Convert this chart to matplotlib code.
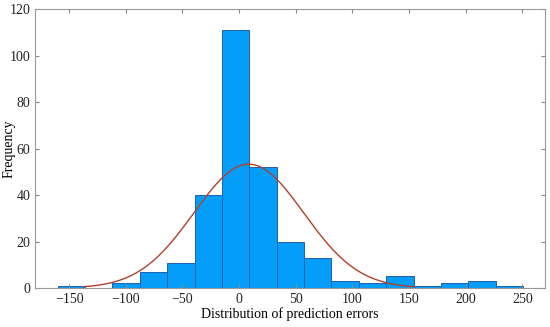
import numpy as np
import matplotlib
matplotlib.use('Agg')
import matplotlib.pyplot as plt

# histogram of prediction errors (17 equal bins)
bin_start = -160.2
bin_width = 24.17
counts = [1, 0, 2, 7, 11, 40, 111, 52, 20, 13, 3, 2, 5, 1, 2, 3, 1]

# fitted normal curve
fit_mean = 8.5
fit_sigma = 48.5
fit_peak = 53.3

xticks = [-150, -100, -50, 0, 50, 100, 150, 200, 250]
yticks = [0, 20, 40, 60, 80, 100, 120]

plt.rcParams['font.family'] = ['Liberation Serif', 'DejaVu Serif']
plt.rcParams['font.size'] = 9

fig = plt.figure(figsize=(5.5, 3.27), dpi=100)
ax = fig.add_axes([0.064, 0.119, 0.927, 0.853])

edges = bin_start + bin_width * np.arange(len(counts) + 1)
ax.bar(edges[:-1], counts, width=bin_width, align='edge',
       color='#049ef8', edgecolor='#1f5fb0', linewidth=0.7)

xs = np.linspace(fit_mean - 3 * fit_sigma, fit_mean + 3 * fit_sigma, 300)
ys = fit_peak * np.exp(-0.5 * ((xs - fit_mean) / fit_sigma) ** 2)
ax.plot(xs, ys, color='#b0402a', linewidth=1.0)

ax.set_xlim(-180, 270)
ax.set_ylim(0, 120)
ax.set_xticks(xticks)
ax.set_yticks(yticks)
ax.tick_params(direction='in', top=True, right=True, length=3,
               color='#888888', labelcolor='#222222', labelsize=10)
for s in ax.spines.values():
    s.set_color('#999999')
    s.set_linewidth(0.8)

ax.set_xlabel('Distribution of prediction errors', fontsize=10, labelpad=1)
ax.set_ylabel('Frequency', fontsize=10)
ax.yaxis.set_label_coords(-0.039, 0.5)

fig.savefig('out.png', dpi=100)
